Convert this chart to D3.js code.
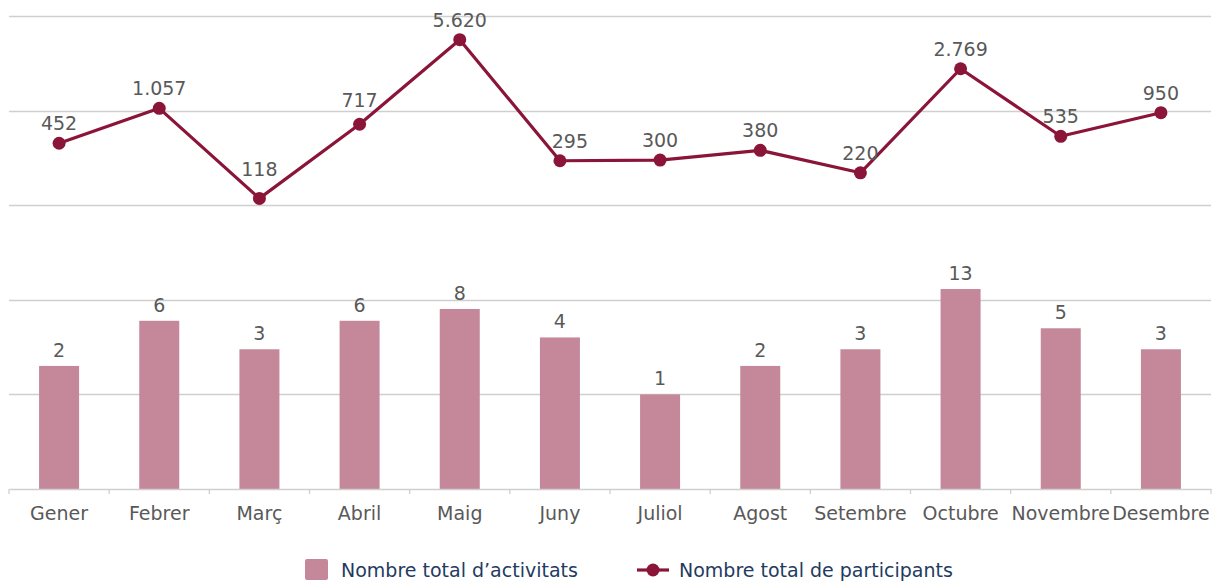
<!DOCTYPE html>
<html>
<head>
<meta charset="utf-8">
<script src="https://cdn.jsdelivr.net/npm/d3@7"></script>
<style>
  html, body { margin: 0; padding: 0; background: #fff; }
  svg { display: block; font-family: Verdana, "DejaVu Sans", sans-serif; }
</style>
</head>
<body>
<svg id="chart" width="1219" height="581"></svg>
<script>
// Monthly activity data
const months = ["Gener", "Febrer", "Març", "Abril", "Maig", "Juny", "Juliol", "Agost", "Setembre", "Octubre", "Novembre", "Desembre"];
const activitats = [2, 6, 3, 6, 8, 4, 1, 2, 3, 13, 5, 3];
const participants = [452, 1057, 118, 717, 5620, 295, 300, 380, 220, 2769, 535, 950];
const gridValues = [0.1, 1, 10, 100, 1000, 10000];
const seriesNames = ["Nombre total d’activitats", "Nombre total de participants"];

// small [dx, dy] shifts for participant labels that would sit on the line
const labelNudge = { "Març": [0, -9], "Abril": [0, -4], "Juny": [10, 0] };

const barColor = "#c4889a";
const lineColor = "#8b1538";
const labelColor = "#595959";
const gridColor = "#cfcfcf";
const legendColor = "#1f3b5f";
const fontSize = 19;

const svg = d3.select("#chart");
const plot = { left: 9, right: 1211, top: 16, bottom: 489 };

const x = d3.scaleBand().domain(months).range([plot.left, plot.right]).paddingInner(0).paddingOuter(0);
const y = d3.scaleLog().domain([0.1, 10000]).range([plot.bottom, plot.top]);

const fmt = d3.formatLocale({ decimal: ",", thousands: ".", grouping: [3], currency: ["", "€"] }).format(",d");

// horizontal gridlines (log decades)
svg.append("g").selectAll("line").data(gridValues.slice(1)).join("line")
  .attr("x1", plot.left).attr("x2", plot.right)
  .attr("y1", d => Math.round(y(d)) + 0.5).attr("y2", d => Math.round(y(d)) + 0.5)
  .attr("stroke", gridColor).attr("stroke-width", 1.3);

// bars
const barW = 40;
svg.append("g").selectAll("rect").data(activitats).join("rect")
  .attr("x", (d, i) => x(months[i]) + x.bandwidth() / 2 - barW / 2)
  .attr("width", barW)
  .attr("y", d => y(d))
  .attr("height", d => y(0.1) - y(d))
  .attr("fill", barColor);

// category axis
const xAxis = svg.append("g").attr("transform", `translate(0,${plot.bottom})`)
  .call(d3.axisBottom(x).tickSize(0).tickPadding(18));
xAxis.select(".domain").attr("stroke", gridColor).attr("stroke-width", 1.5);
xAxis.selectAll("text").attr("fill", labelColor).attr("font-size", fontSize)
  .attr("font-family", "Verdana, 'DejaVu Sans', sans-serif");
// boundary ticks between categories
const bounds = months.map(m => x(m)).concat([plot.right]);
xAxis.selectAll("line.sep").data(bounds).join("line").attr("class", "sep")
  .attr("x1", d => d).attr("x2", d => d).attr("y1", 0).attr("y2", 5)
  .attr("stroke", gridColor).attr("stroke-width", 1.3);

// bar value labels
svg.append("g").selectAll("text").data(activitats).join("text")
  .attr("x", (d, i) => x(months[i]) + x.bandwidth() / 2)
  .attr("y", d => y(d) - 9)
  .attr("text-anchor", "middle").attr("fill", labelColor).attr("font-size", fontSize)
  .text(d => fmt(d));

// participants line
const cx = (d, i) => x(months[i]) + x.bandwidth() / 2;
svg.append("path").datum(participants)
  .attr("d", d3.line().x(cx).y(d => y(d)))
  .attr("fill", "none").attr("stroke", lineColor).attr("stroke-width", 3.2)
  .attr("stroke-linejoin", "round");
svg.append("g").selectAll("circle").data(participants).join("circle")
  .attr("cx", cx).attr("cy", d => y(d)).attr("r", 6.5).attr("fill", lineColor);

const nudge = i => labelNudge[months[i]] || [0, 0];
svg.append("g").selectAll("text").data(participants).join("text")
  .attr("x", (d, i) => cx(d, i) + nudge(i)[0])
  .attr("y", (d, i) => y(d) - 13 + nudge(i)[1])
  .attr("text-anchor", "middle").attr("fill", labelColor).attr("font-size", fontSize)
  .text(d => fmt(d));

// legend
const legend = svg.append("g").attr("font-size", fontSize);
legend.append("rect").attr("x", 305).attr("y", 559).attr("width", 23).attr("height", 21)
  .attr("rx", 2).attr("fill", barColor);
legend.append("text").attr("x", 341).attr("y", 577).attr("fill", legendColor).text(seriesNames[0]);
legend.append("line").attr("x1", 637).attr("x2", 669).attr("y1", 570).attr("y2", 570)
  .attr("stroke", lineColor).attr("stroke-width", 3.2);
legend.append("circle").attr("cx", 653).attr("cy", 570).attr("r", 6.5).attr("fill", lineColor);
legend.append("text").attr("x", 679).attr("y", 577).attr("fill", legendColor).text(seriesNames[1]);
</script>
</body>
</html>
